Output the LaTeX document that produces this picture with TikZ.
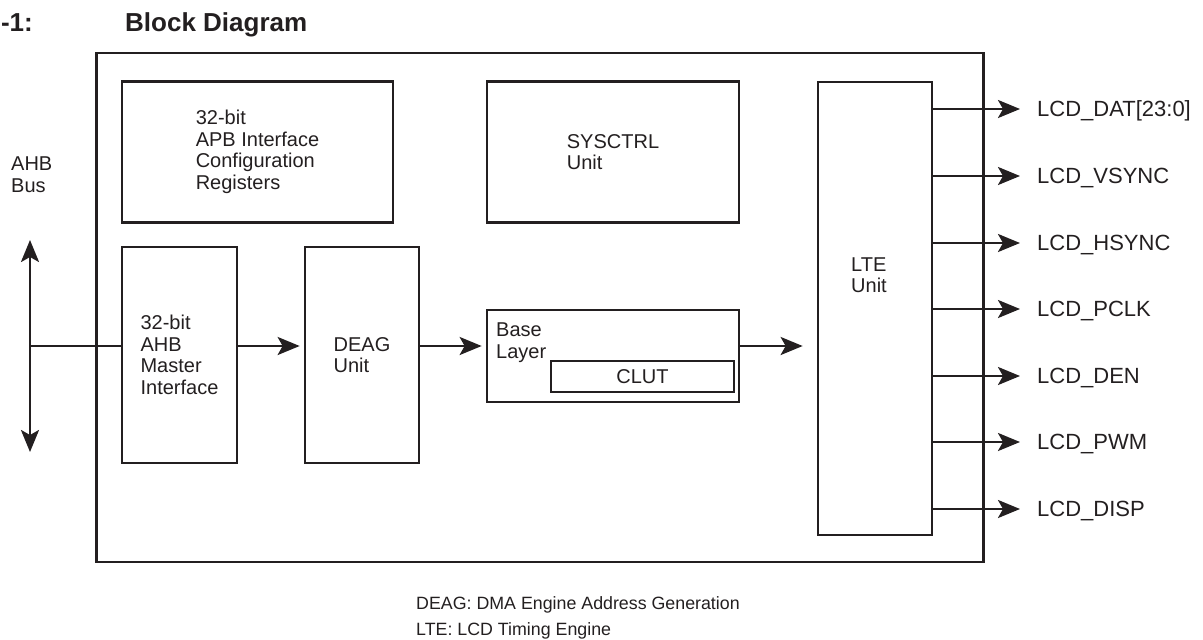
\documentclass[tikz,border=0pt]{standalone}
\usepackage{fontspec}
\setmainfont{Liberation Sans}
\usepackage{xcolor}
\usepackage{tikz}
\usetikzlibrary{arrows.meta,positioning}
\definecolor{ink}{HTML}{231F20}

\begin{document}
\begin{tikzpicture}[
  x=1pt,y=-1pt,
  font=\fontsize{20}{21.5}\selectfont,
  every node/.style={text=ink},
  blk/.style={draw=ink,line width=2.7pt,align=left,inner sep=0pt},
  txt/.style={align=left,inner sep=0pt},
  sig/.style={anchor=west,font=\fontsize{22}{24}\selectfont,inner sep=3pt,
              text height=15.75pt,text depth=0pt},
  ln/.style={draw=ink,line width=2.7pt},
  ar/.style={-{Stealth[length=22pt,width=18pt,inset=5pt]},draw=ink,line width=2.7pt},
  bus/.style={{Stealth[length=22pt,width=18pt,inset=5pt]}-{Stealth[length=22pt,width=18pt,inset=5pt]},
              draw=ink,line width=2.7pt}
]
\useasboundingbox (0,0) rectangle (1203,640);

\node[txt,anchor=base east,font=\bfseries\fontsize{26}{28}\selectfont] (fignum) at (33,31) {-1:};
\node[txt,anchor=base west,font=\bfseries\fontsize{26}{28}\selectfont] (title) at (125,31) {Block Diagram};

\node[blk,minimum width=887,minimum height=509] (chip) at (540,307.5) {};
\node[blk,minimum width=271,minimum height=141] (apb) at (257.5,152)
  {32-bit\\APB Interface\\Configuration\\Registers};
\node[blk,minimum width=252,minimum height=141] (sysctrl) at (613,152) {SYSCTRL\\Unit};
\node[blk,minimum width=115,minimum height=216] (ahbm) at (179.5,355)
  {32-bit\\AHB\\Master\\Interface};
\node[blk,minimum width=114,minimum height=216] (deag) at (362,355) {DEAG\\Unit};
\node[blk,minimum width=252,minimum height=92] (base) at (613,356) {};
\node[txt,anchor=north west] (baselbl) at (496,323) {Base\\Layer};
\node[blk,align=center,minimum width=183,minimum height=31] (clut) at (642.5,376.5) {CLUT};
\node[blk,minimum width=114,minimum height=453] (lte) at (875,308.5) {};
\node[txt] (ltelbl) at (869,275) {LTE\\Unit};

\node[txt,anchor=west] (buslbl) at (11,174.5) {AHB\\Bus};
\coordinate (bustop) at (30,240);
\coordinate (busbot) at (30,452);
\coordinate (bustap) at (30,346);

\node[sig] (dat) at (1034,109) {LCD\_DAT[23:0]};
\node[sig] (vsync) at (1034,176) {LCD\_VSYNC};
\node[sig] (hsync) at (1034,243) {LCD\_HSYNC};
\node[sig] (pclk) at (1034,309) {LCD\_PCLK};
\node[sig] (den) at (1034,376) {LCD\_DEN};
\node[sig] (pwm) at (1034,442) {LCD\_PWM};
\node[sig] (disp) at (1034,509) {LCD\_DISP};

\node[txt,anchor=west,font=\fontsize{17.8}{26}\selectfont] (notes) at (416,618)
  {DEAG: DMA Engine Address Generation\\LTE: LCD Timing Engine};

\draw[bus] (bustop) -- (busbot);
\draw[ln] (bustap) -- (ahbm.west |- bustap);
\draw[ar,shorten >=4pt] (ahbm.east |- bustap) -- (deag.west |- bustap);
\draw[ar,shorten >=4pt] (deag.east |- bustap) -- (base.west |- bustap);
\draw[ar,shorten >=14pt] (base.east |- bustap) -- (lte.west |- bustap);

\draw[ar,shorten >=14pt] (lte.east |- dat.west) -- (dat.west);
\draw[ar,shorten >=14pt] (lte.east |- vsync.west) -- (vsync.west);
\draw[ar,shorten >=14pt] (lte.east |- hsync.west) -- (hsync.west);
\draw[ar,shorten >=14pt] (lte.east |- pclk.west) -- (pclk.west);
\draw[ar,shorten >=14pt] (lte.east |- den.west) -- (den.west);
\draw[ar,shorten >=14pt] (lte.east |- pwm.west) -- (pwm.west);
\draw[ar,shorten >=14pt] (lte.east |- disp.west) -- (disp.west);
\end{tikzpicture}
\end{document}
